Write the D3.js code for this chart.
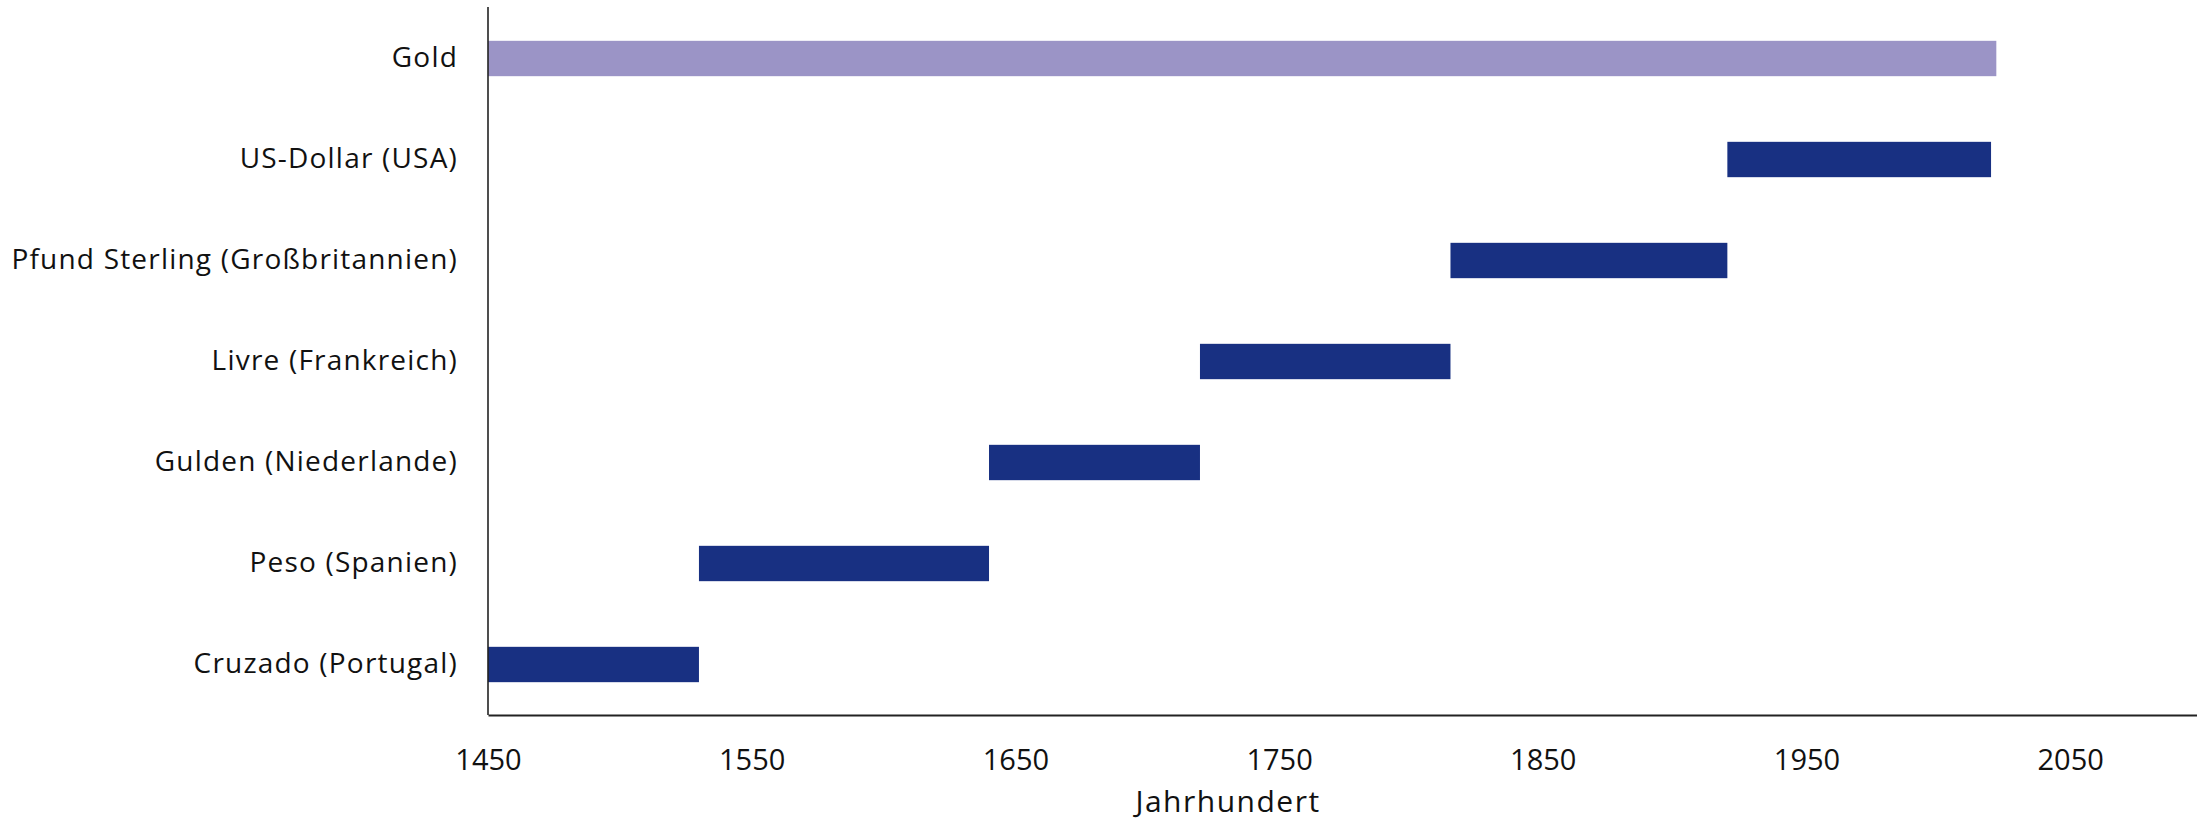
<!DOCTYPE html>
<html>
<head>
<meta charset="utf-8">
<script src="https://cdn.jsdelivr.net/npm/d3@7"></script>
<style>
  html, body { margin: 0; padding: 0; background: #fff; }
  svg { display: block; font-family: "Open Sans", Lato, sans-serif; }
</style>
</head>
<body>
<svg id="chart" width="2197" height="822"></svg>
<script>
// Leitwährungen im Zeitverlauf (Beginn / Ende in Jahren)
const currencies = [
  "Gold",
  "US-Dollar (USA)",
  "Pfund Sterling (Großbritannien)",
  "Livre (Frankreich)",
  "Gulden (Niederlande)",
  "Peso (Spanien)",
  "Cruzado (Portugal)"
];
const startYears = [1450, 1920, 1815, 1720, 1640, 1530, 1450];
const endYears   = [2022, 2020, 1920, 1815, 1720, 1640, 1530];
const tickYears  = [1450, 1550, 1650, 1750, 1850, 1950, 2050];
const axisTitle  = "Jahrhundert";

(function () {
  const rows = currencies.map((name, i) => ({ name, start: startYears[i], end: endYears[i] }));

  const svg = d3.select("#chart");
  const plotLeft = 488, plotRight = 2202, plotTop = 8, plotBottom = 715;
  const font = "'Open Sans', Lato, sans-serif";

  const x = d3.scaleLinear().domain([1450, 2100]).range([plotLeft, plotRight]);
  const y = d3.scaleBand().domain(currencies).range([plotTop, plotBottom])
    .paddingInner(0.65).paddingOuter(0.325);

  // Balken
  svg.append("g").selectAll("rect")
    .data(rows)
    .join("rect")
    .attr("x", d => x(d.start))
    .attr("y", d => y(d.name))
    .attr("width", d => x(d.end) - x(d.start))
    .attr("height", y.bandwidth())
    .attr("fill", d => d.name === "Gold" ? "#9b94c6" : "#183082");

  // y-Achse: Kategorienamen
  const yAxis = svg.append("g")
    .attr("transform", `translate(${plotLeft},0)`)
    .call(d3.axisLeft(y).tickSize(0).tickPadding(30));
  yAxis.select(".domain").remove();
  yAxis.selectAll("text")
    .attr("font-size", 28)
    .attr("letter-spacing", 1.2)
    .attr("font-family", font)
    .attr("fill", "#111");

  // vertikale Achsenlinie
  svg.append("line")
    .attr("x1", plotLeft).attr("x2", plotLeft)
    .attr("y1", plotTop - 1).attr("y2", plotBottom)
    .attr("stroke", "#222").attr("stroke-width", 1.6);

  // x-Achse
  const xAxis = svg.append("g")
    .attr("transform", `translate(0,${plotBottom})`)
    .call(d3.axisBottom(x).tickValues(tickYears).tickFormat(d3.format("d")).tickSize(0).tickPadding(34));
  xAxis.select(".domain").attr("stroke", "#222").attr("stroke-width", 2);
  xAxis.selectAll("text")
    .attr("font-size", 29)
    .attr("font-family", font)
    .attr("fill", "#111");

  // Achsentitel
  svg.append("text")
    .attr("x", 1228)
    .attr("y", 812)
    .attr("text-anchor", "middle")
    .attr("font-size", 30)
    .attr("letter-spacing", 1.5)
    .attr("font-family", font)
    .attr("fill", "#111")
    .text(axisTitle);
})();
</script>
</body>
</html>
